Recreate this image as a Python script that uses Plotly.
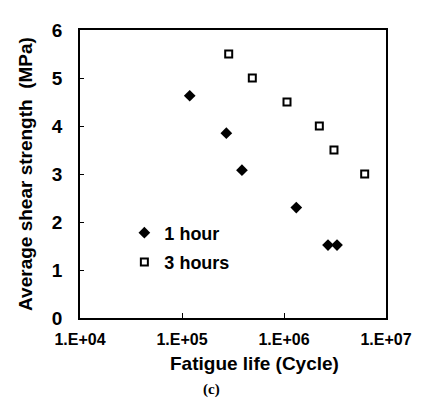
import plotly.graph_objects as go

# Data
one_hour_x = [1.19e5, 2.72e5, 3.87e5, 1.32e6, 2.70e6, 3.31e6]
one_hour_y = [4.63, 3.85, 3.08, 2.30, 1.52, 1.52]
three_hours_x = [2.87e5, 4.89e5, 1.07e6, 2.22e6, 3.09e6, 6.18e6]
three_hours_y = [5.5, 5.0, 4.5, 4.0, 3.5, 3.0]

x_tickvals = [1e4, 1e5, 1e6, 1e7]
x_ticktext = ["1.E+04", "1.E+05", "1.E+06", "1.E+07"]
y_tickvals = [0, 1, 2, 3, 4, 5, 6]
y_ticktext = ["0", "1", "2", "3", "4", "5", "6"]

FONT = "Liberation Sans, Arial, sans-serif"


def b(s):
    return "<b>" + s + "</b>"


fig = go.Figure()
fig.add_trace(go.Scatter(
    x=one_hour_x, y=one_hour_y, mode="markers", name=b("1 hour"),
    legendgroup="a",
    marker=dict(symbol="diamond", size=9, color="black", line=dict(width=0)),
))
fig.add_trace(go.Scatter(
    x=three_hours_x, y=three_hours_y, mode="markers", name=b("3 hours"),
    legendgroup="b",
    marker=dict(symbol="square-open", size=7, color="black", line=dict(width=2)),
))

fig.update_layout(
    width=422, height=401,
    margin=dict(l=72, r=44, t=13, b=91),
    paper_bgcolor="white", plot_bgcolor="white",
    font=dict(family=FONT, color="black"),
    showlegend=True,
    legend=dict(
        x=0.145, y=0.245, xanchor="left", yanchor="middle",
        bgcolor="rgba(0,0,0,0)", borderwidth=0,
        font=dict(family=FONT, size=18, color="black"),
        itemwidth=30, traceorder="grouped", tracegroupgap=3,
    ),
    xaxis=dict(
        type="log", range=[4, 7],
        tickvals=x_tickvals, ticktext=[b(t) for t in x_ticktext],
        ticks="inside", ticklen=5, tickcolor="black", tickwidth=1,
        showline=True, linecolor="black", linewidth=1.5, mirror=True,
        showgrid=False, zeroline=False,
        tickfont=dict(family=FONT, size=16, color="black"),
        ticklabelstandoff=6,
    ),
    yaxis=dict(
        range=[0, 6], tickvals=y_tickvals, ticktext=[b(t) for t in y_ticktext],
        ticks="inside", ticklen=4, tickcolor="black", tickwidth=1,
        showline=True, linecolor="black", linewidth=1.5, mirror=True,
        showgrid=False, zeroline=False,
        tickfont=dict(family=FONT, size=19, color="black"),
        ticklabelstandoff=12,
        title=dict(text=b("Average shear strength&nbsp; (MPa)"),
                   font=dict(family=FONT, size=19, color="black"),
                   standoff=14),
    ),
    annotations=[
        dict(text=b("Fatigue life (Cycle)"), xref="paper", yref="paper",
             x=0.569, y=-0.157, xanchor="center", yanchor="middle", showarrow=False,
             font=dict(family=FONT, size=19, color="black")),
        dict(text=b("(c)"), xref="paper", yref="paper",
             x=0.43, y=-0.247, xanchor="center", yanchor="middle", showarrow=False,
             font=dict(family="Liberation Serif, Times New Roman, serif", size=15,
                       color="black")),
    ],
)

fig.write_html("out.html")
